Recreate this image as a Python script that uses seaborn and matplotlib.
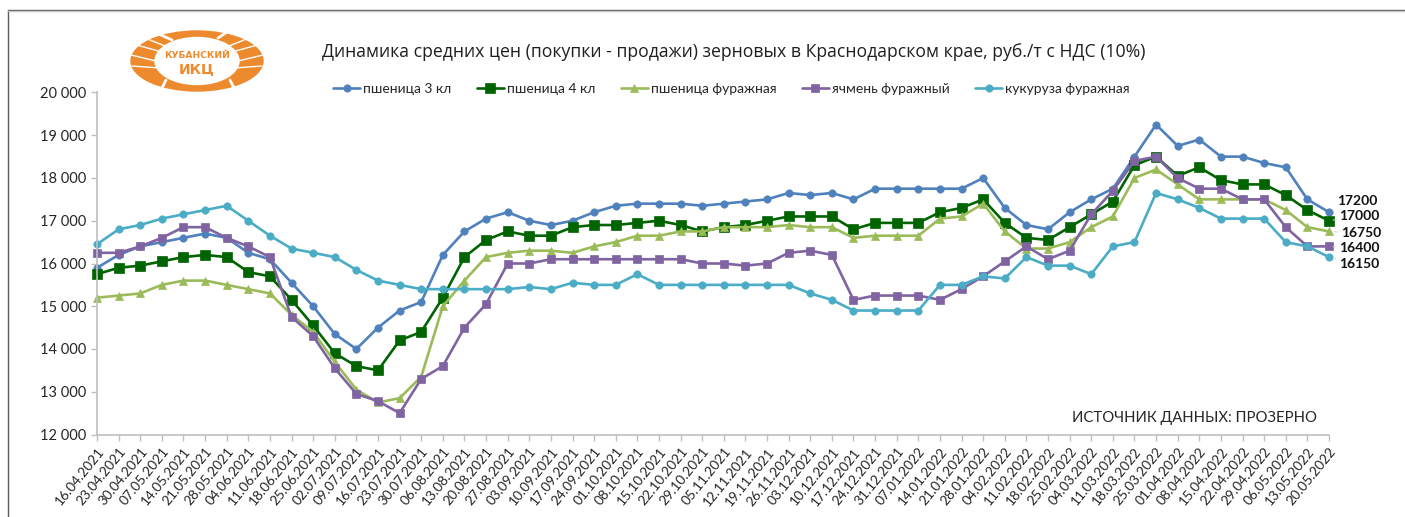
import pandas as pd
import matplotlib.pyplot as plt
import seaborn as sns
from matplotlib.patches import Ellipse

dates = ['16.04.2021', '23.04.2021', '30.04.2021', '07.05.2021', '14.05.2021', '21.05.2021', '28.05.2021',
         '04.06.2021', '11.06.2021', '18.06.2021', '25.06.2021', '02.07.2021', '09.07.2021', '16.07.2021',
         '23.07.2021', '30.07.2021', '06.08.2021', '13.08.2021', '20.08.2021', '27.08.2021', '03.09.2021',
         '10.09.2021', '17.09.2021', '24.09.2021', '01.10.2021', '08.10.2021', '15.10.2021', '22.10.2021',
         '29.10.2021', '05.11.2021', '12.11.2021', '19.11.2021', '26.11.2021', '03.12.2021', '10.12.2021',
         '17.12.2021', '24.12.2021', '31.12.2021', '07.01.2022', '14.01.2022', '21.01.2022', '28.01.2022',
         '04.02.2022', '11.02.2022', '18.02.2022', '25.02.2022', '04.03.2022', '11.03.2022', '18.03.2022',
         '25.03.2022', '01.04.2022', '08.04.2022', '15.04.2022', '22.04.2022', '29.04.2022', '06.05.2022',
         '13.05.2022', '20.05.2022']

wheat3 = [15900, 16200, 16400, 16500, 16600, 16700, 16600, 16250, 16100, 15550,
          15000, 14350, 14000, 14500, 14900, 15100, 16200, 16750, 17050, 17200,
          17000, 16900, 17000, 17200, 17350, 17400, 17400, 17400, 17350, 17400,
          17450, 17500, 17650, 17600, 17650, 17500, 17750, 17750, 17750, 17750,
          17750, 18000, 17300, 16900, 16800, 17200, 17500, 17750, 18500, 19250,
          18750, 18900, 18500, 18500, 18350, 18250, 17500, 17200]
wheat4 = [15750, 15900, 15950, 16050, 16150, 16200, 16150, 15800, 15700, 15150,
          14550, 13900, 13600, 13500, 14200, 14400, 15200, 16150, 16550, 16750,
          16650, 16650, 16850, 16900, 16900, 16950, 17000, 16900, 16750, 16850,
          16900, 17000, 17100, 17100, 17100, 16800, 16950, 16950, 16950, 17200,
          17300, 17500, 16950, 16600, 16550, 16850, 17150, 17450, 18300, 18500,
          18050, 18250, 17950, 17850, 17850, 17600, 17250, 17000]
wheat_feed = [15200, 15250, 15300, 15500, 15600, 15600, 15500, 15400, 15300, 14800,
              14400, 13700, 13050, 12750, 12850, 13350, 15000, 15600, 16150, 16250,
              16300, 16300, 16250, 16400, 16500, 16650, 16650, 16750, 16750, 16850,
              16850, 16850, 16900, 16850, 16850, 16600, 16650, 16650, 16650, 17050,
              17100, 17400, 16750, 16350, 16350, 16500, 16850, 17100, 18000, 18200,
              17850, 17500, 17500, 17500, 17500, 17250, 16850, 16750]
barley = [16250, 16250, 16400, 16600, 16850, 16850, 16600, 16400, 16150, 14750,
          14300, 13550, 12950, 12780, 12500, 13300, 13600, 14500, 15050, 16000,
          16000, 16100, 16100, 16100, 16100, 16100, 16100, 16100, 16000, 16000,
          15950, 16000, 16250, 16300, 16200, 15150, 15250, 15250, 15250, 15150,
          15400, 15700, 16050, 16400, 16100, 16300, 17150, 17700, 18400, 18500,
          18000, 17750, 17750, 17500, 17500, 16850, 16400, 16400]
corn = [16450, 16800, 16900, 17050, 17150, 17250, 17350, 17000, 16650, 16350,
        16250, 16150, 15850, 15600, 15500, 15400, 15400, 15400, 15400, 15400,
        15450, 15400, 15550, 15500, 15500, 15750, 15500, 15500, 15500, 15500,
        15500, 15500, 15500, 15300, 15150, 14900, 14900, 14900, 14900, 15500,
        15500, 15700, 15650, 16150, 15950, 15950, 15750, 16400, 16500, 17650,
        17500, 17300, 17050, 17050, 17050, 16500, 16400, 16150]

series_names = ['пшеница 3 кл', 'пшеница 4 кл', 'пшеница фуражная', 'ячмень фуражный', 'кукуруза фуражная']
series_values = [wheat3, wheat4, wheat_feed, barley, corn]
colors = ['#4f81bd', '#006400', '#9bbb59', '#8064a2', '#4bacc6']
markers = ['o', 's', '^', 's', 'o']
marker_sizes = [5.3, 6.8, 5.5, 5.8, 5.3]
y_ticks = [12000, 13000, 14000, 15000, 16000, 17000, 18000, 19000, 20000]
y_labels = ['12 000', '13 000', '14 000', '15 000', '16 000', '17 000', '18 000', '19 000', '20 000']

W, H = 1405, 517
sns.set_theme(style='white')
plt.rcParams['font.family'] = ['Lato', 'Open Sans', 'DejaVu Sans']

fig = plt.figure(figsize=(W / 100, H / 100), dpi=100)
ax = fig.add_axes([97 / W, 1 - 434.5 / H, 1232 / W, 342 / H])
ax.patch.set_alpha(0)

for name, values, col, mk, ms in zip(series_names, series_values, colors, markers, marker_sizes):
    sub = pd.DataFrame({'date': dates, 'price': values})
    sns.lineplot(data=sub, x='date', y='price', ax=ax, color=col, marker=mk, markersize=ms,
                 linewidth=1.9, markeredgecolor=col, markeredgewidth=0.5, label=name,
                 sort=False, errorbar=None, clip_on=False)

ax.set_xlim(0, len(dates) - 1)
ax.set_ylim(12000, 20000)
ax.set_xlabel('')
ax.set_ylabel('')
ax.set_yticks(y_ticks)
ax.set_yticklabels(y_labels, fontsize=10.5, color='#262626')
ax.set_xticks(range(len(dates)))
ax.set_xticklabels(dates, rotation=51, ha='right', rotation_mode='anchor', fontsize=9.9, color='#262626')
ax.tick_params(axis='both', length=4, width=1, color='#bfbfbf', pad=4, left=True, bottom=True)
sns.despine(ax=ax)
for side in ['left', 'bottom']:
    ax.spines[side].set_color('#bfbfbf')
    ax.spines[side].set_linewidth(1.2)

# подписи последних значений
last_offsets = [(8, 11), (10, 5), (12, -2), (10, -2), (10, -7)]
for values, off in zip(series_values, last_offsets):
    ax.annotate(str(values[-1]), xy=(len(dates) - 1, values[-1]), xytext=off, textcoords='offset pixels',
                ha='left', va='center', fontsize=10, fontweight='bold', color='#111111', annotation_clip=False,
                arrowprops=dict(arrowstyle='-', color='#d9d9d9', lw=0.7, shrinkA=0, shrinkB=3))

ax.legend(loc='center left', bbox_to_anchor=(236 / 1232, 1.011), ncols=5, frameon=False, fontsize=10,
          handlelength=1.95, handletextpad=0.2, columnspacing=1.85, labelcolor='#262626', borderaxespad=0, borderpad=0)

fig.text(733.5 / W, 1 - 51.5 / H, 'Динамика средних цен (покупки - продажи) зерновых в Краснодарском крае, руб./т с НДС (10%)',
         ha='center', va='center', fontsize=12.67, family='Open Sans', color='#1f1f1f')
fig.text(1194 / W, 1 - 418 / H, 'ИСТОЧНИК ДАННЫХ: ПРОЗЕРНО', ha='center', va='center', fontsize=10.75, color='#262626')

# логотип
logo = fig.add_axes([130 / W, 1 - 92 / H, 134 / W, 62 / H])
logo.set_xlim(130, 264)
logo.set_ylim(92, 30)
logo.axis('off')
logo.add_patch(Ellipse((197, 61), 132, 60, color='#ee8a2e'))
logo.add_patch(Ellipse((197, 61), 84, 47, color='white'))
for x0, x1, y0, y1, lw in [(131, 160, 55, 62, 1), (133, 162, 44, 52, 1), (140, 165, 36, 46, 1), (263, 234, 55, 62, 1),
                           (261, 232, 44, 52, 1), (254, 229, 36, 46, 1), (132, 160, 66, 68, 1), (262, 234, 66, 68, 1),
                           (150, 172, 30, 40, 2), (230, 218, 30, 38, 2), (160, 166, 92, 80, 2), (236, 230, 92, 80, 2)]:
    logo.plot([x0, x1], [y0, y1], color='white', lw=lw)
logo.text(197, 55.5, 'КУБАНСКИЙ', ha='center', va='center', fontsize=6.6, fontweight='bold', color='#ee8a2e', family='DejaVu Sans')
logo.text(197, 69, 'ИКЦ', ha='center', va='center', fontsize=10, fontweight='bold', color='#ee8a2e', family='DejaVu Sans')

# рамка
fig.add_artist(plt.Line2D([7.5 / W, 7.5 / W], [0, 1 - 9.5 / H], color='#595959', lw=1))
fig.add_artist(plt.Line2D([7.5 / W, 1], [1 - 9.5 / H, 1 - 9.5 / H], color='#595959', lw=1))
fig.add_artist(plt.Line2D([7.5 / W, 1], [1 - 10.5 / H, 1 - 10.5 / H], color='#c4c4c4', lw=1))

plt.savefig('out.png', dpi=100)
plt.close()
